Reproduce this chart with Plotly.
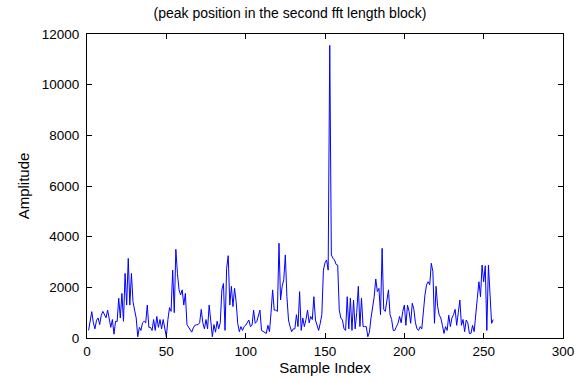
import plotly.graph_objects as go

sample_index = list(range(1, 257))
amplitude = [
    300, 700, 1040, 600, 360, 700, 790, 530, 900, 1050,
    920, 800, 1100, 700, 420, 730, 150, 660, 650, 1570,
    790, 1760, 660, 2550, 1300, 3140, 1300, 2550, 1430, 1100,
    790, 50, 420, 300, 600, 660, 600, 1300, 420, 420,
    300, 730, 300, 850, 420, 730, 360, 730, 420, 50,
    730, 1200, 1050, 2680, 1000, 3500, 2550, 1900, 1700, 1900,
    1300, 1760, 530, 420, 300, 230, 400, 500, 520, 530,
    600, 1130, 600, 360, 730, 360, 1300, 600, 50, 530,
    230, 660, 360, 600, 1900, 2150, 300, 2750, 3250, 1300,
    2040, 1240, 1960, 1430, 580, 250, 450, 300, 450, 500,
    600, 710, 450, 500, 1100, 580, 650, 900, 1100, 300,
    250, 200, 180, 500, 250, 1000, 1900, 1100, 1100, 1050,
    3740, 1500, 2040, 2300, 3280, 1630, 710, 450, 250, 360,
    360, 920, 450, 1830, 300, 790, 450, 730, 1100, 600,
    850, 730, 1630, 710, 500, 300, 580, 920, 2680, 2970,
    3080, 2680, 11550, 3280, 3150, 3080, 2900, 2880, 1100, 790,
    710, 360, 300, 1630, 360, 1570, 300, 1500, 360, 1000,
    2040, 450, 1570, 450, 450, 450, 50, 230, 790, 1200,
    1630, 2330, 1830, 1960, 920, 3540, 1130, 1050, 1500, 1900,
    920, 730, 300, 300, 450, 580, 850, 600, 1050, 1300,
    500, 1300, 1050, 580, 1370, 1130, 600, 360, 300, 450,
    360, 1100, 1700, 2100, 2220, 2100, 2950, 2620, 580, 2040,
    1240, 900, 790, 500, 180, 450, 300, 900, 450, 790,
    920, 1130, 500, 1000, 1500, 500, 730, 250, 710, 600,
    180, 180, 500, 250, 1050, 1570, 2220, 1630, 2880, 2220,
    2850, 300, 2880, 1830, 580, 730,
]

x_ticks = [0, 50, 100, 150, 200, 250, 300]
x_tick_labels = ["0", "50", "100", "150", "200", "250", "300"]
y_ticks = [0, 2000, 4000, 6000, 8000, 10000, 12000]
y_tick_labels = ["0", "2000", "4000", "6000", "8000", "10000", "12000"]

title_text = "(peak position in the second fft length block)"
x_title = "Sample Index"
y_title = "Amplitude"

fig = go.Figure()
fig.add_trace(go.Scatter(
    x=sample_index, y=amplitude, mode="lines",
    line=dict(color="#0000FF", width=1),
    showlegend=False,
))

font_family = "Liberation Sans, Arial, sans-serif"
axis_common = dict(
    showline=True, linecolor="black", linewidth=1, mirror="ticks",
    ticks="inside", ticklen=5, tickcolor="black", showgrid=False,
    zeroline=False, automargin=False,
    tickfont=dict(family=font_family, size=13.5, color="black"),
)

fig.update_layout(
    width=585, height=383,
    margin=dict(l=87, r=22, t=34, b=45),
    paper_bgcolor="white", plot_bgcolor="white",
    font=dict(family=font_family, size=13.5, color="black"),
    title=dict(text=title_text, x=290 / 585, xref="container", xanchor="center",
               y=1 - 13 / 383, yref="container", yanchor="middle",
               font=dict(family=font_family, size=14, color="black")),
    xaxis=dict(range=[0, 300], tickvals=x_ticks, ticktext=x_tick_labels,
               ticklabelstandoff=1,
               title=dict(text=x_title, standoff=3,
                          font=dict(family=font_family, size=15)),
               **axis_common),
    yaxis=dict(range=[0, 12000], tickvals=y_ticks, ticktext=y_tick_labels,
               ticklabelstandoff=4,
               title=dict(text=y_title, standoff=8,
                          font=dict(family=font_family, size=15)),
               **axis_common),
)

fig.write_html(
    "out.html",
    config={"displayModeBar": False},
    post_script="document.body.style.margin='0px';document.body.style.padding='0px';",
)
